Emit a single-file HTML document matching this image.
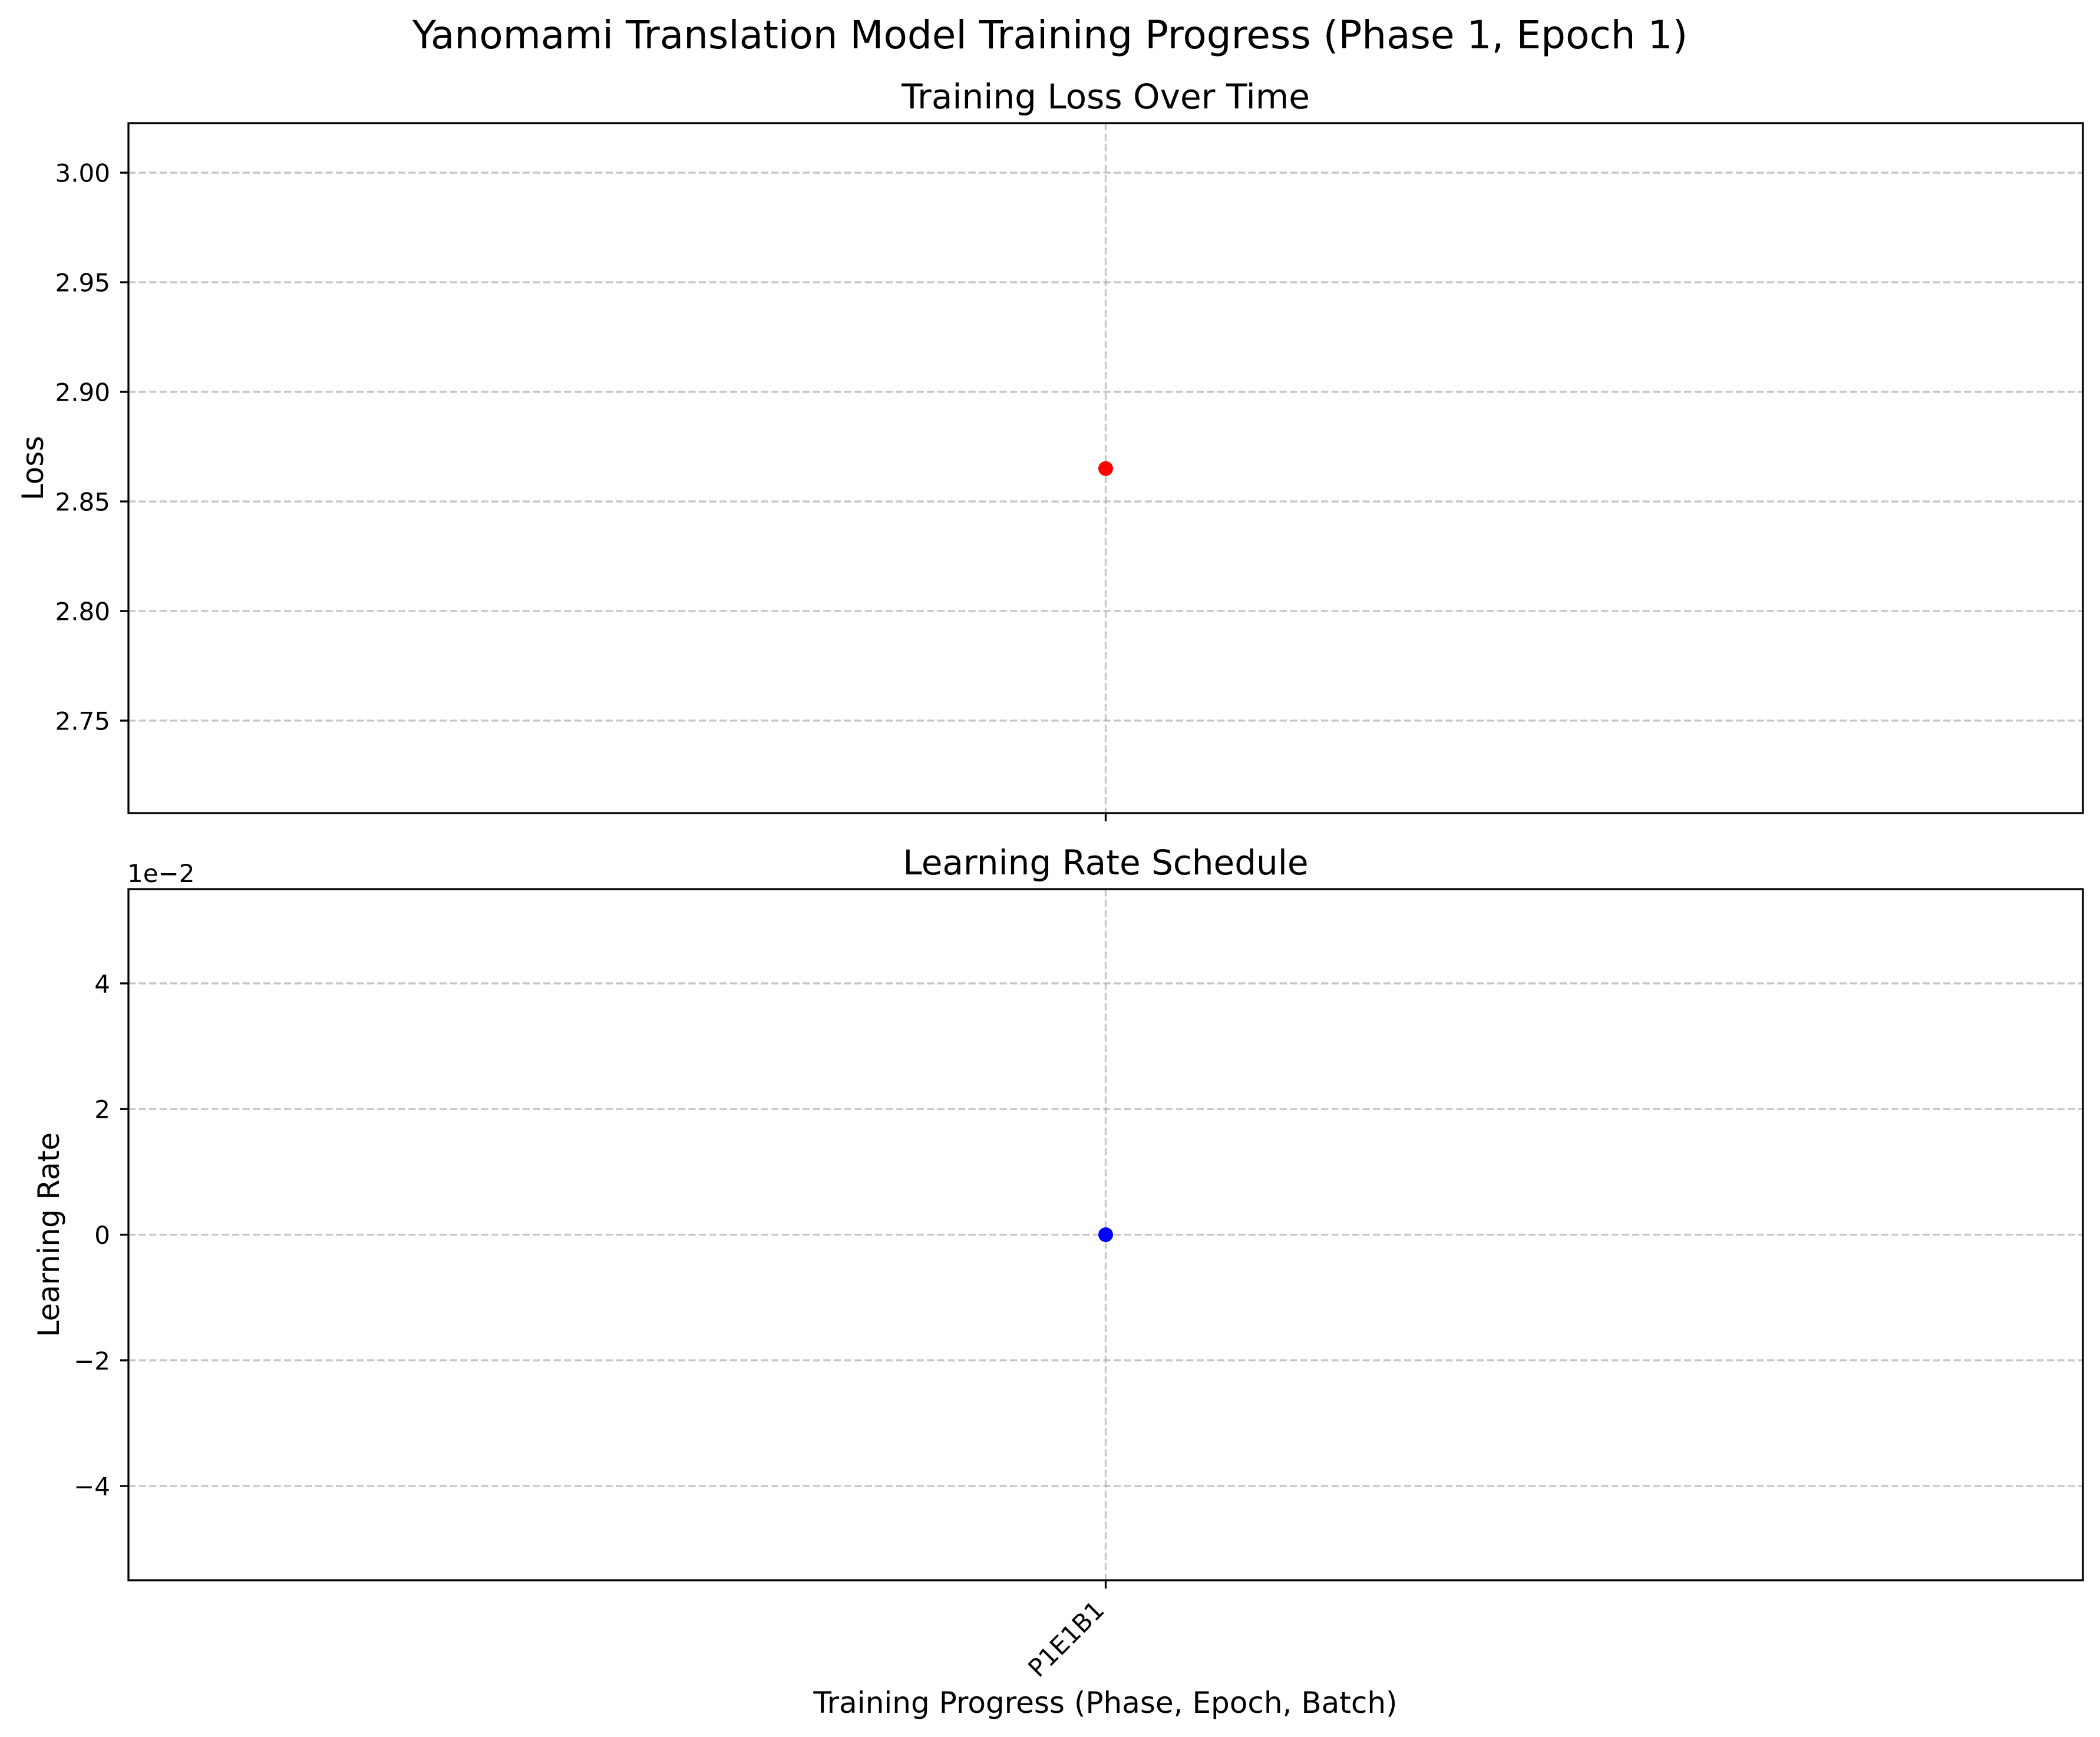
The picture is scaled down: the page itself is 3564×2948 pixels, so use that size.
<!DOCTYPE html>
<html><head><meta charset="utf-8"><style>
html,body{margin:0;padding:0;background:#fff}
svg{display:block;font-family:"DejaVu Sans","Liberation Sans",sans-serif}
</style></head><body>
<svg id="chart" xmlns="http://www.w3.org/2000/svg" width="3564" height="2948" viewBox="0 0 3564 2948">
<rect width="3564" height="2948" fill="#fff"/>
<text x="1782" y="82" text-anchor="middle" font-size="66" fill="#000">Yanomami Translation Model Training Progress (Phase 1, Epoch 1)</text>
<g id="top"></g>
<g id="bot"></g>
</svg>
<script>
const categories = ["P1E1B1"];
const lossValues = [2.865];
const lrValues = [0.0];
const lossTicks = [2.75, 2.80, 2.85, 2.90, 2.95, 3.00];
const lossTickLabels = ["2.75", "2.80", "2.85", "2.90", "2.95", "3.00"];
const lrTicks = [-4, -2, 0, 2, 4];
const lrTickLabels = ["\u22124", "\u22122", "0", "2", "4"];

const NS = "http://www.w3.org/2000/svg";
function mk(parent, tag, attrs, text) {
  const e = document.createElementNS(NS, tag);
  for (const k in attrs) e.setAttribute(k, attrs[k]);
  if (text !== undefined) e.textContent = text;
  parent.appendChild(e);
  return e;
}
const L = 218, R = 3535;
function xScale(i) { return L + (R - L) * (i + 0.5) / categories.length; }

function panel(g, top, bottom, yMin, yMax, ticks, labels, vals, color, title, ylabel, ylabelX, scale, prefix) {
  const y = v => bottom - (v - yMin) / (yMax - yMin) * (bottom - top);
  ticks.forEach((t, i) => {
    const yy = y(t);
    const gl = mk(g, "line", {x1: L, x2: R, y1: yy, y2: yy, stroke: "#b0b0b0", "stroke-width": 3.3, "stroke-dasharray": "12.3,5.3", opacity: 0.7});
    
    
    const tk = mk(g, "line", {x1: L - 14, x2: L, y1: yy, y2: yy, stroke: "#000", "stroke-width": 3.3});
    
    
    const tl = mk(g, "text", {x: L - 31, y: yy + 15.5, "text-anchor": "end", "font-size": 42, fill: "#000"}, labels[i]);
    
    
  });
  categories.forEach((c, i) => {
    const xx = xScale(i);
    const vg = mk(g, "line", {x1: xx, x2: xx, y1: top, y2: bottom, stroke: "#b0b0b0", "stroke-width": 3.3, "stroke-dasharray": "12.3,5.3", opacity: 0.7});
    
    
    const xt = mk(g, "line", {x1: xx, x2: xx, y1: bottom, y2: bottom + 14, stroke: "#000", "stroke-width": 3.3});
    
    
    const pt = mk(g, "circle", {cx: xx, cy: y(vals[i] / scale), r: 12.5, fill: color});
    
    
  });
  const fr = mk(g, "rect", {x: L, y: top, width: R - L, height: bottom - top, fill: "none", stroke: "#000", "stroke-width": 3.3});
  
  
  const tt = mk(g, "text", {x: (L + R) / 2, y: top - 25, "text-anchor": "middle", "font-size": 58, fill: "#000"}, title);
  
  
  const cy = (top + bottom) / 2;
  const yl = mk(g, "text", {x: ylabelX, y: cy, "text-anchor": "middle", "font-size": 50, fill: "#000", transform: `rotate(-90 ${ylabelX} ${cy})`}, ylabel);
  
  
}

panel(document.getElementById("top"), 209, 1380, 2.7078, 3.0226, lossTicks, lossTickLabels, lossValues, "#ff0000", "Training Loss Over Time", "Loss", 73, 1, "loss");
panel(document.getElementById("bot"), 1509, 2682, -5.5, 5.5, lrTicks, lrTickLabels, lrValues, "#0000ff", "Learning Rate Schedule", "Learning Rate", 100, 0.01, "lr");

const bot = document.getElementById("bot");
const off = mk(bot, "text", {x: 216, y: 1497, "font-size": 42, fill: "#000"}, "1e\u22122");


categories.forEach((c, i) => {
  const xx = xScale(i), yy = 2735;
  const t = mk(bot, "text", {x: xx, y: yy, "text-anchor": "end", "font-size": 42, fill: "#000", transform: `rotate(-45 ${xx} ${yy})`}, c);
  
  
});
const xl = mk(bot, "text", {x: 1876, y: 2907, "text-anchor": "middle", "font-size": 50, fill: "#000"}, "Training Progress (Phase, Epoch, Batch)");


</script>
</body></html>
